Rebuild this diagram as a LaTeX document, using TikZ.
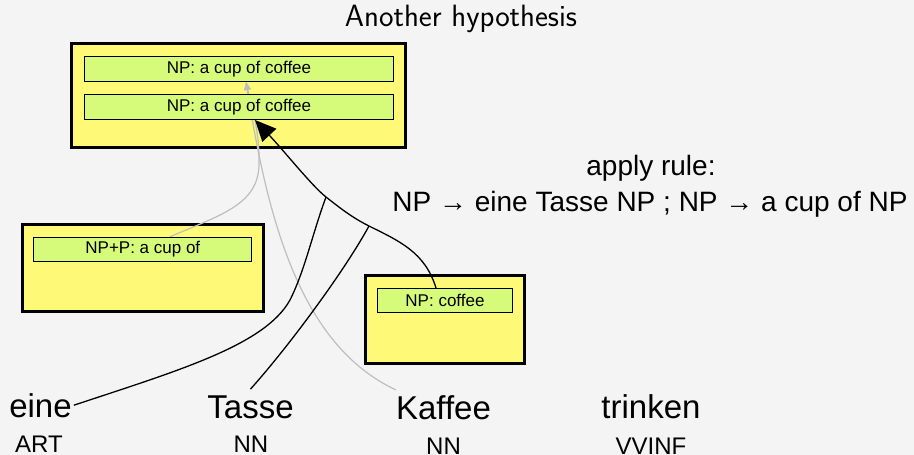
\documentclass[tikz,border=0pt]{standalone}
\usepackage{fontspec}
\setmainfont{Liberation Sans}
\usetikzlibrary{arrows.meta}

\definecolor{pagebg}{HTML}{F4F4F4}
\definecolor{boxyellow}{HTML}{FFF978}
\definecolor{boxgreen}{HTML}{D6FA7A}
\definecolor{linkgrey}{HTML}{BEBEBE}

\pgfdeclarelayer{back}
\pgfdeclarelayer{links}
\pgfsetlayers{back,links,main}

\newcommand\fsz[1]{\fontsize{#1bp}{1.2\dimexpr#1bp\relax}\selectfont}

\tikzset{
  outerbox/.style={draw=black, line width=2.6bp, fill=boxyellow, inner sep=0pt},
  itembox/.style={draw=black, line width=1bp, fill=boxgreen, inner sep=0pt,
    font=\fsz{17}},
  word/.style={inner sep=0pt, anchor=base, font=\fsz{33}},
  postag/.style={inner sep=0pt, anchor=base, font=\fsz{24}},
  ruletext/.style={inner sep=0pt, anchor=base, font=\fsz{28}},
  derivlink/.style={draw=black, line width=1.3bp},
  derivarrow/.style={derivlink, -{Triangle[length=21bp,width=19bp]}},
  greylink/.style={draw=linkgrey, line width=1.2bp,
    -{Triangle[length=8bp,width=6.5bp]}},
}

\begin{document}
\begin{tikzpicture}[x=1bp,y=-1bp]
  % page
  \begin{pgfonlayer}{back}
    \fill[pagebg] (0,0) rectangle (914,455);
  \end{pgfonlayer}
  \useasboundingbox (0,0) rectangle (914,455);

  % title
  \node[inner sep=0pt, anchor=base, font=\sffamily\fsz{30.8}] (title) at (461,27) {Another hypothesis};

  % hypothesis boxes (yellow frames)
  \begin{pgfonlayer}{back}
    \node[outerbox, minimum width=334bp, minimum height=104bp] (b1) at (238.5,95.5) {};
    \node[outerbox, minimum width=241bp, minimum height=87bp] (b2) at (143,268.3) {};
    \node[outerbox, minimum width=159bp, minimum height=88bp] (b3) at (445,319.5) {};
  \end{pgfonlayer}

  % entries inside the frames
  \node[itembox, minimum width=309bp, minimum height=25bp] (g1) at (239,69) {NP: a cup of coffee};
  \node[itembox, minimum width=309bp, minimum height=25bp] (g2) at (239,107) {NP: a cup of coffee};
  \node[itembox, minimum width=218bp, minimum height=24bp] (g4) at (142.8,249.2) {NP+P: a cup of};
  \node[itembox, minimum width=135bp, minimum height=24bp] (g5) at (445,300.5) {NP: coffee};

  % rule annotation
  \node[ruletext] (rule1) at (651,176) {apply rule:};
  \node[ruletext] (rule2) at (650,212) {NP → eine Tasse NP ; NP → a cup of NP};

  % source words and tags
  \node[word] (w1) at (40.5,417) {eine};
  \node[word] (w2) at (250.5,418) {Tasse};
  \node[word] (w3) at (443.5,419) {Kaffee};
  \node[word] (w4) at (651,418) {trinken};
  \node[postag] (t1) at (39,452) {ART};
  \node[postag] (t2) at (251,452) {NN};
  \node[postag] (t3) at (443.5,454) {NN};
  \node[postag] (t4) at (651,454) {VVINF};

  % junctions on the derivation edge
  \coordinate (j1) at (326,197);
  \coordinate (j2) at (369,226);

  \begin{pgfonlayer}{links}
    % grey links of the combined hypotheses
    \draw[greylink] ([xshift=27.5bp]g4.north)
      .. controls (220,215) and (258,205) .. (259,165)
      .. controls (260,130) and (250,100) .. ([xshift=7bp]g1.south);
    \draw[greylink] ([yshift=5bp]w3.north west)
      .. controls (300,345) and (268,220) .. ([xshift=7bp]g1.south);
    % derivation edge from NP: coffee
    \draw[derivarrow] ([xshift=-9bp]g5.north)
      .. controls (425,252) and (399,241) .. (j2)
      .. controls (352,217.5) and (340,208) .. (j1)
      .. controls (312,186) and (285,152) .. ([xshift=16bp]g2.south);
    % words covered by the rule
    \draw[derivlink] ([xshift=2bp]w1.east)
      .. controls (180,370) and (265,345) .. (290,300)
      .. controls (305,270) and (312,235) .. (j1);
    \draw[derivlink] ([yshift=6bp]w2.north)
      .. controls (290,345) and (345,270) .. (j2);
  \end{pgfonlayer}
\end{tikzpicture}
\end{document}
